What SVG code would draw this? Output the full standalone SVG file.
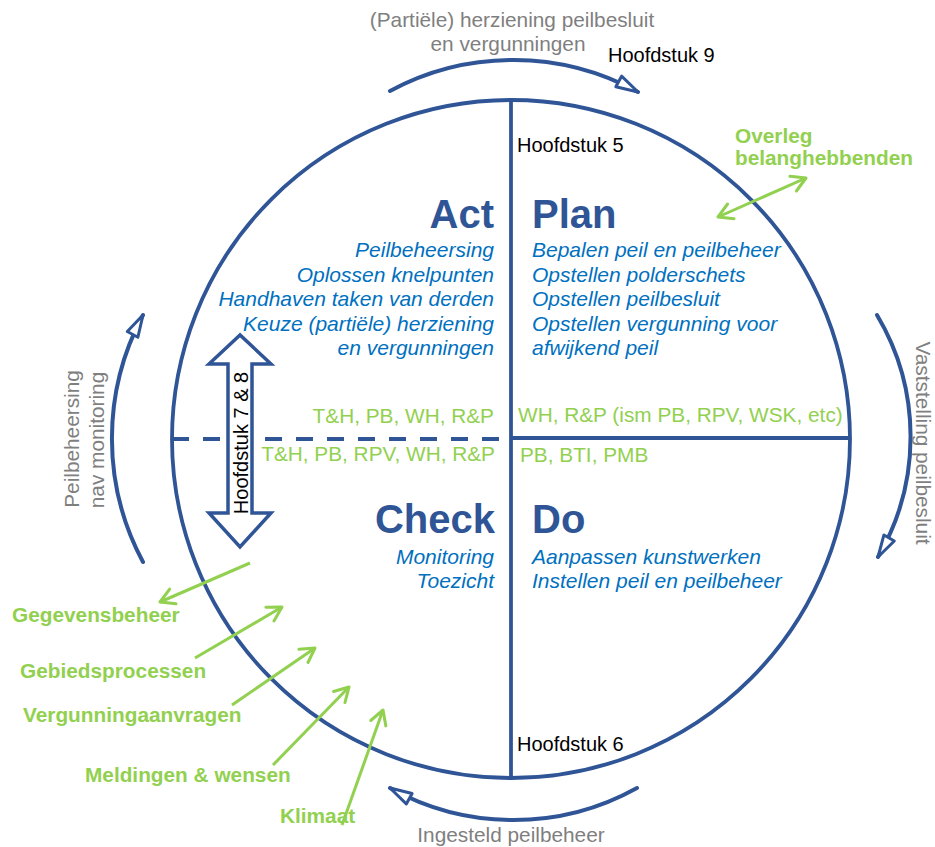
<svg xmlns="http://www.w3.org/2000/svg" width="935" height="847" viewBox="0 0 935 847">
<style>
  text { font-family: "Liberation Sans", Arial, sans-serif; }
  .head { font-size: 40px; font-weight: bold; fill: #2F5597; }
  .it { font-size: 21px; font-style: italic; fill: #0070C0; }
  .gr { font-size: 20.8px; fill: #92D050; }
  .grb { font-size: 20.8px; font-weight: bold; fill: #92D050; }
  .gray { font-size: 20.8px; fill: #7F7F7F; }
  .blk { font-size: 20px; fill: #000; }
  .blue { fill: none; stroke: #2F5597; stroke-width: 3.8; }
  .arc { fill: none; stroke: #2F5597; stroke-width: 4; stroke-linecap: round; marker-end: url(#hollow); }
  .garrow { fill: none; stroke: #92D050; stroke-width: 3; marker-end: url(#chev); }
  .end { text-anchor: end; }
  .mid { text-anchor: middle; }
</style>
<defs>
  <marker id="hollow" markerUnits="userSpaceOnUse" markerWidth="32" markerHeight="20" viewBox="-28 -10 32 20" refX="0" refY="0" orient="auto">
    <path d="M0,0 L-22,-6 L-22,6 Z" fill="#FFFFFF" stroke="#2F5597" stroke-width="3" stroke-linejoin="round"/>
  </marker>
  <marker id="chev" markerUnits="userSpaceOnUse" markerWidth="22" markerHeight="22" viewBox="-18 -11 22 22" refX="0" refY="0" orient="auto-start-reverse">
    <path d="M-14,-8 L0,0 L-14,8" fill="none" stroke="#92D050" stroke-width="3" stroke-linecap="round" stroke-linejoin="round"/>
  </marker>
</defs>
<rect width="935" height="847" fill="#FFFFFF"/>

<g id="cycle-circle">
  <circle cx="511" cy="439" r="339" class="blue"/>
  <line x1="511" y1="100" x2="511" y2="778" class="blue"/>
  <line x1="511" y1="438" x2="850" y2="438" class="blue"/>
  <line x1="172" y1="439" x2="499" y2="439" class="blue" stroke-dasharray="17 14"/>
</g>

<g id="connectors">
  <path id="arc-top" class="arc" d="M390,91 A260,260 0 0 1 638,92"/>
  <path id="arc-right" class="arc" d="M877,315 A238,238 0 0 1 878,557"/>
  <path id="arc-bottom" class="arc" d="M637,788 A254,254 0 0 1 390,788"/>
  <path id="arc-left" class="arc" d="M143,562 A261,261 0 0 1 143,315"/>
  <line class="garrow" x1="718" y1="217" x2="806" y2="178" marker-start="url(#chev)"/>
  <line class="garrow" x1="250" y1="563" x2="160" y2="602"/>
  <line class="garrow" x1="195" y1="658" x2="282" y2="607"/>
  <line class="garrow" x1="232" y1="705" x2="315" y2="648"/>
  <line class="garrow" x1="273" y1="765" x2="349" y2="687"/>
  <line class="garrow" x1="342" y1="825" x2="383" y2="710"/>
</g>

<g id="hoofdstuk-7-8">
  <polygon points="240,335 209,364 228,364 228,513 209,513 240,547 271,513 252,513 252,364 271,364" fill="#FFFFFF" stroke="#2F5597" stroke-width="3.5" stroke-linejoin="miter"/>
  <text class="blk mid" transform="translate(248,443) rotate(-90)">Hoofdstuk 7 &amp; 8</text>
</g>

<g id="act">
  <text class="head end" x="494" y="228">Act</text>
  <text class="it end" x="494" y="257">Peilbeheersing</text>
  <text class="it end" x="494" y="281.5">Oplossen knelpunten</text>
  <text class="it end" x="494" y="306">Handhaven taken van derden</text>
  <text class="it end" x="494" y="330.5">Keuze (partiële) herziening</text>
  <text class="it end" x="494" y="355">en vergunningen</text>
  <text class="gr end" x="494" y="423">T&amp;H, PB, WH, R&amp;P</text>
</g>

<g id="plan">
  <text class="head" x="532" y="228">Plan</text>
  <text class="it" x="532" y="257">Bepalen peil en peilbeheer</text>
  <text class="it" x="532" y="281.5">Opstellen polderschets</text>
  <text class="it" x="532" y="306">Opstellen peilbesluit</text>
  <text class="it" x="532" y="330.5">Opstellen vergunning voor</text>
  <text class="it" x="532" y="355">afwijkend peil</text>
  <text class="gr" x="518" y="422">WH, R&amp;P (ism PB, RPV, WSK, etc)</text>
</g>

<g id="check">
  <text class="head end" x="495" y="533">Check</text>
  <text class="it end" x="494" y="564">Monitoring</text>
  <text class="it end" x="494" y="588">Toezicht</text>
  <text class="gr end" x="495" y="461">T&amp;H, PB, RPV, WH, R&amp;P</text>
</g>

<g id="do">
  <text class="head" x="532" y="533">Do</text>
  <text class="it" x="532" y="564">Aanpassen kunstwerken</text>
  <text class="it" x="532" y="588">Instellen peil en peilbeheer</text>
  <text class="gr" x="520" y="462">PB, BTI, PMB</text>
</g>

<g id="labels-chapters">
  <text class="blk" x="608" y="62">Hoofdstuk 9</text>
  <text class="blk" x="517" y="152">Hoofdstuk 5</text>
  <text class="blk" x="517" y="751">Hoofdstuk 6</text>
</g>

<g id="label-top">
  <text class="gray mid" x="512" y="27">(Partiële) herziening peilbesluit</text>
  <text class="gray mid" x="508" y="51">en vergunningen</text>
</g>
<g id="label-right">
  <text class="gray mid" transform="translate(916,443) rotate(90)">Vaststelling peilbesluit</text>
</g>
<g id="label-bottom">
  <text class="gray mid" x="511" y="842">Ingesteld peilbeheer</text>
</g>
<g id="label-left">
  <text class="gray mid" transform="translate(79,439) rotate(-90)">Peilbeheersing</text>
  <text class="gray mid" transform="translate(104,440) rotate(-90)">nav monitoring</text>
</g>

<g id="overleg">
  <text class="grb" x="735" y="143">Overleg</text>
  <text class="grb" x="735" y="165">belanghebbenden</text>
</g>
<g id="gegevensbeheer"><text class="grb" x="12" y="622">Gegevensbeheer</text></g>
<g id="gebiedsprocessen"><text class="grb" x="20" y="678">Gebiedsprocessen</text></g>
<g id="vergunningaanvragen"><text class="grb" x="23" y="722">Vergunningaanvragen</text></g>
<g id="meldingen"><text class="grb" x="85" y="782">Meldingen &amp; wensen</text></g>
<g id="klimaat"><text class="grb" x="280" y="823">Klimaat</text></g>
</svg>
